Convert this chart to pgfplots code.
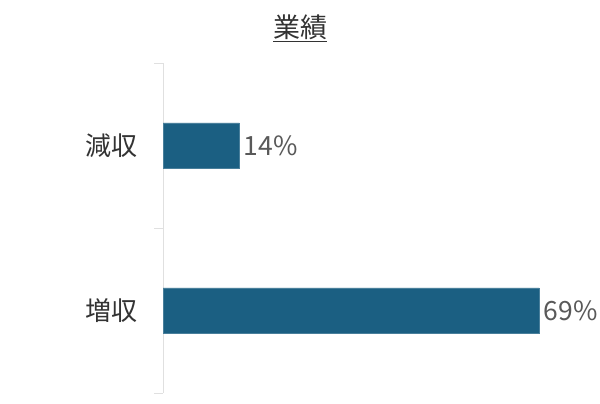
\documentclass[border=0pt]{standalone}
\usepackage{pgfplots}
\pgfplotsset{compat=1.18}
\usepackage{fontspec}
\setmainfont{Noto Sans CJK JP}
\definecolor{barc}{HTML}{1B5F82}
\definecolor{axc}{HTML}{E0E0E0}
\definecolor{lblc}{HTML}{595959}
\definecolor{catc}{HTML}{333333}
\begin{document}
\begin{tikzpicture}[x=1pt,y=1pt]
\begin{axis}[
  at={(163pt,93.5pt)}, anchor=origin,
  scale only axis, width=376pt, height=330pt,
  xmin=0, xmax=69, ymin=-0.5, ymax=1.5,
  clip=false,
  axis x line=none,
  axis y line*=left,
  y axis line style={draw=axc, line width=0.8pt, -},
  ytick={0,1}, yticklabels={増収,減収},
  major tick length=0pt,
  yticklabel style={font=\fontsize{26}{26}\selectfont, text=catc, xshift=-22pt},
  extra y ticks={-0.5,0.5,1.5},
  extra y tick labels={},
  extra y tick style={major tick length=9pt, tick align=outside, tick style={draw=axc, line width=0.8pt}},
  xbar, bar width=45pt,
  /pgf/number format/assume math mode=true,
  nodes near coords={\pgfmathprintnumber{\pgfplotspointmeta}\%},
  nodes near coords style={font=\fontsize{26.5}{26.5}\selectfont, text=lblc, anchor=west, xshift=2.5pt, inner sep=2pt},
  point meta=x,
]
\addplot[fill=barc, draw=barc!80!white] coordinates {(69,0) (14,1)};
\end{axis}
\node[font=\fontsize{27}{27}\selectfont, text=catc, anchor=center] at (300pt,376pt) {\underline{業績}};
\pgfresetboundingbox
\path[use as bounding box] (0,0) rectangle (600pt,404pt);
\end{tikzpicture}
\end{document}
